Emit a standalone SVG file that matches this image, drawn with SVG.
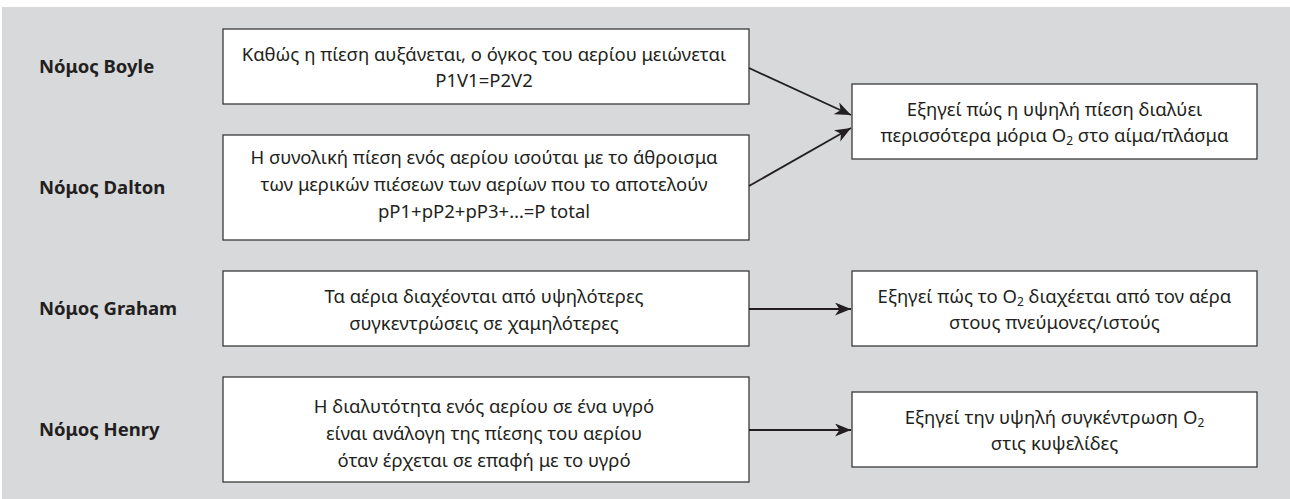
<svg xmlns="http://www.w3.org/2000/svg" width="1290" height="499" viewBox="0 0 1290 499">
<defs>
<style>
.bg{fill:#d8d9db}
.box{fill:#ffffff;stroke:#3a3a3a;stroke-width:1.3}
.t{font-family:"Noto Sans","Open Sans","Liberation Sans",sans-serif;font-size:18.5px;fill:#231f20;text-anchor:middle}
.lbl{font-family:"Noto Sans","Open Sans","Liberation Sans",sans-serif;font-size:18.5px;font-weight:bold;fill:#231f20}
.c{fill:none;stroke:#231f20;stroke-width:1.8}
.sub{font-size:12px}
</style>
<marker id="ah" markerUnits="userSpaceOnUse" markerWidth="18" markerHeight="14" refX="16" refY="6.5" orient="auto">
<path d="M0,0 L16,6.5 L0,13 L4.5,6.5 Z" fill="#231f20"/>
</marker>
</defs>
<rect class="bg" x="2" y="7" width="1288" height="492"/>

<g id="label-boyle"><text class="lbl" x="39" y="73">Νόμος Boyle</text></g>
<g id="label-dalton"><text class="lbl" x="39" y="194">Νόμος Dalton</text></g>
<g id="label-graham"><text class="lbl" x="39" y="315">Νόμος Graham</text></g>
<g id="label-henry"><text class="lbl" x="39" y="436">Νόμος Henry</text></g>

<g id="boyle">
<rect class="box" x="223" y="29" width="526" height="75"/>
<text class="t" x="484" y="61">Καθώς η πίεση αυξάνεται, ο όγκος του αερίου μειώνεται</text>
<text class="t" x="484" y="87">P1V1=P2V2</text>
</g>
<g id="dalton">
<rect class="box" x="223" y="135" width="526" height="105"/>
<text class="t" x="484" y="164">Η συνολική πίεση ενός αερίου ισούται με το άθροισμα</text>
<text class="t" x="484" y="191">των μερικών πιέσεων των αερίων που το αποτελούν</text>
<text class="t" x="484" y="218">pP1+pP2+pP3+…=P total</text>
</g>
<g id="graham">
<rect class="box" x="223" y="271" width="526" height="75"/>
<text class="t" x="484" y="303">Τα αέρια διαχέονται από υψηλότερες</text>
<text class="t" x="484" y="330">συγκεντρώσεις σε χαμηλότερες</text>
</g>
<g id="henry">
<rect class="box" x="223" y="377" width="526" height="105"/>
<text class="t" x="484" y="413">Η διαλυτότητα ενός αερίου σε ένα υγρό</text>
<text class="t" x="484" y="440">είναι ανάλογη της πίεσης του αερίου</text>
<text class="t" x="484" y="467">όταν έρχεται σε επαφή με το υγρό</text>
</g>

<g id="explain-pressure">
<rect class="box" x="852" y="84" width="405" height="75"/>
<text class="t" x="1054.5" y="116">Εξηγεί πώς η υψηλή πίεση διαλύει</text>
<text class="t" x="1054.5" y="142">περισσότερα μόρια O<tspan class="sub" dy="3">2</tspan><tspan dy="-3"> στο αίμα/πλάσμα</tspan></text>
</g>
<g id="explain-diffusion">
<rect class="box" x="852" y="271" width="405" height="75"/>
<text class="t" x="1054.5" y="303">Εξηγεί πώς το O<tspan class="sub" dy="3">2</tspan><tspan dy="-3"> διαχέεται από τον αέρα</tspan></text>
<text class="t" x="1054.5" y="329">στους πνεύμονες/ιστούς</text>
</g>
<g id="explain-alveoli">
<rect class="box" x="852" y="392" width="405" height="75"/>
<text class="t" x="1054.5" y="424">Εξηγεί την υψηλή συγκέντρωση O<tspan class="sub" dy="3">2</tspan></text>
<text class="t" x="1054.5" y="450">στις κυψελίδες</text>
</g>

<g id="connectors">
<line class="c" x1="749" y1="68" x2="851" y2="115" marker-end="url(#ah)"/>
<line class="c" x1="749" y1="186" x2="851" y2="128" marker-end="url(#ah)"/>
<line class="c" x1="749" y1="309" x2="851" y2="309" marker-end="url(#ah)"/>
<line class="c" x1="749" y1="430" x2="851" y2="430" marker-end="url(#ah)"/>
</g>
</svg>
